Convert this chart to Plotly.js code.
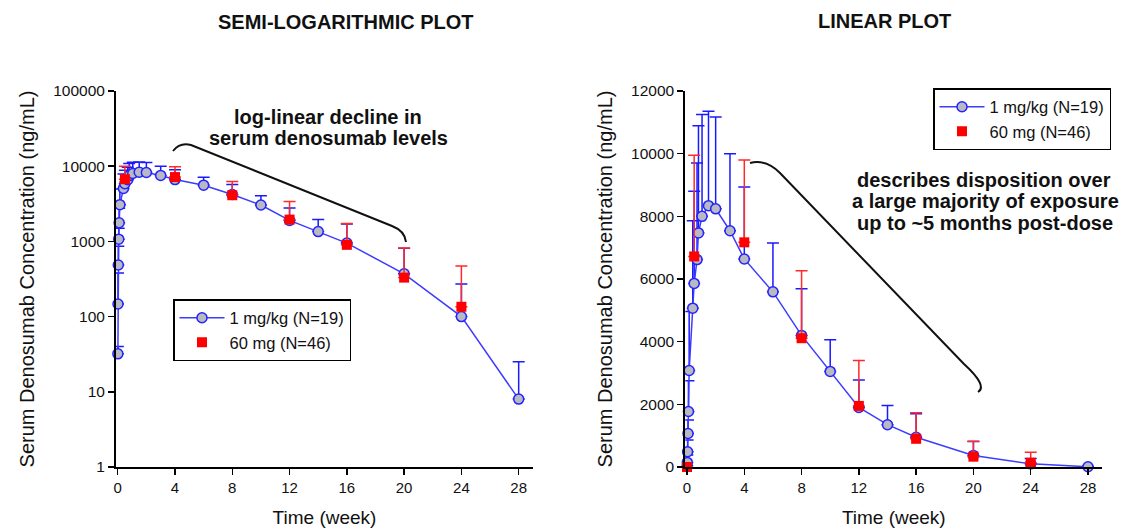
<!DOCTYPE html>
<html>
<head>
<meta charset="utf-8">
<script src="https://cdn.plot.ly/plotly-3.0.1.min.js"></script>
<style>html,body{margin:0;padding:0;background:#fff;}#chart{width:1123px;height:529px;}</style>
</head>
<body>
<div id="chart"></div>
<script>
// ---- data ----
var blueName = "1 mg/kg (N=19)";
var redName = "60 mg (N=46)";
var blueWeeks = [0.01, 0.02, 0.04, 0.07, 0.1, 0.15, 0.4, 0.5, 0.7, 0.8, 1.05, 1.5, 2, 3, 4, 6, 8, 10, 12, 14, 16, 20, 24, 28];
var blueConc  = [32, 147, 486, 1070, 1770, 3080, 5070, 5860, 6620, 7470, 8000, 8340, 8240, 7540, 6640, 5590, 4200, 3050, 1900, 1350, 950, 370, 100, 8];
var blueUpper = [40, 380, 860, 1500, 2750, 4960, 7860, 8800, 9700, 10890, 11250, 11350, 11170, 10000, 8940, 7150, 5690, 4060, 2780, 1960, 1700, 810, 271, 25];
var redWeeks = [0, 0.5, 4, 8, 12, 16, 20, 24];
var redConc  = [0, 6720, 7170, 4110, 1950, 900, 330, 135];
var redUpper = [0, 9950, 9800, 6260, 3400, 1730, 820, 470];
var xTickVals = [0, 4, 8, 12, 16, 20, 24, 28];
var logTickVals = [1, 10, 100, 1000, 10000, 100000];
var logTickText = ["1", "10", "100", "1000", "10000", "100000"];
var linTickVals = [0, 2000, 4000, 6000, 8000, 10000, 12000];
var linTickText = ["0", "2000", "4000", "6000", "8000", "10000", "12000"];

// ---- styling ----
var W = 1123, H = 529;
var FONT = "Liberation Sans, Arial, Helvetica, sans-serif";
function px(x) { return x / W; }
function py(y) { return 1 - y / H; }
function pathFromPx(cmds) {
  return cmds.map(function (c) {
    var s = c[0];
    for (var i = 1; i < c.length; i += 2) s += " " + px(c[i]).toFixed(5) + "," + py(c[i + 1]).toFixed(5);
    return s;
  }).join(" ");
}
function diff(up, v) { return up.map(function (u, i) { return Math.max(0, u - v[i]); }); }
function zeros(v) { return v.map(function () { return 0; }); }

var blueLine = { color: "#3c3cff", width: 1.5 };
var blueMarker = { symbol: "circle", size: 10, color: "#b9b9c2", line: { color: "#2323ff", width: 1.5 } };
var redMarker = { symbol: "square", size: 10, color: "#ff0000", line: { color: "#ff0000", width: 0 } };
function blueErr() { return { type: "data", symmetric: false, array: diff(blueUpper, blueConc), arrayminus: zeros(blueConc), color: "#1a1aff", thickness: 1.5, width: 6 }; }
function redErr() { return { type: "data", symmetric: false, array: diff(redUpper, redConc), arrayminus: zeros(redConc), color: "#ff2a2a", thickness: 1.5, width: 6 }; }

var traces = [
  { type: "scatter", mode: "lines+markers", x: blueWeeks, y: blueConc, name: blueName, xaxis: "x", yaxis: "y",
    line: blueLine, marker: blueMarker, error_y: blueErr(), cliponaxis: false, legend: "legend" },
  { type: "scatter", mode: "markers", x: redWeeks, y: redConc, name: redName, xaxis: "x", yaxis: "y",
    marker: redMarker, error_y: redErr(), cliponaxis: false, legend: "legend" },
  { type: "scatter", mode: "lines+markers", x: blueWeeks, y: blueConc, name: blueName, xaxis: "x2", yaxis: "y2",
    line: blueLine, marker: blueMarker, error_y: blueErr(), cliponaxis: false, legend: "legend2" },
  { type: "scatter", mode: "markers", x: redWeeks, y: redConc, name: redName, xaxis: "x2", yaxis: "y2",
    marker: redMarker, error_y: redErr(), cliponaxis: false, legend: "legend2" }
];

function xAxis(d0, d1, anchor) {
  return {
    domain: [px(d0), px(d1)], anchor: anchor, range: [-0.12, 29],
    tickvals: xTickVals, ticks: "outside", ticklen: 6, tickwidth: 1.5, tickcolor: "#000",
    showline: true, linecolor: "#000", linewidth: 2, showgrid: false, zeroline: false,
    tickfont: { family: FONT, size: 15, color: "#111" },
    title: { text: "Time (week)", font: { family: FONT, size: 19, color: "#111" }, standoff: 16 }
  };
}
function yTitle() { return { text: "Serum Denosumab Concentration (ng/mL)", font: { family: FONT, size: 20, color: "#111" }, standoff: 13 }; }

function ann(text, x, y) {
  return { text: "<b>" + text + "</b>", x: px(x), y: py(y), xref: "paper", yref: "paper",
    xanchor: "center", yanchor: "middle", showarrow: false, font: { family: FONT, size: 20, color: "#111" } };
}

var layout = {
  width: W, height: H,
  margin: { l: 0, r: 0, t: 0, b: 0 },
  paper_bgcolor: "#fff", plot_bgcolor: "rgba(0,0,0,0)",
  font: { family: FONT, color: "#111" },
  xaxis: xAxis(116, 533, "y"),
  xaxis2: xAxis(685.3, 1102.3, "y2"),
  yaxis: {
    domain: [py(467), py(91)], anchor: "x", type: "log", range: [0, 5],
    tickvals: logTickVals, ticktext: logTickText, ticks: "outside", ticklen: 6, tickwidth: 1.5, tickcolor: "#000",
    showline: true, linecolor: "#000", linewidth: 2, showgrid: false, zeroline: false,
    tickfont: { family: FONT, size: 15.5, color: "#111" }, title: yTitle()
  },
  yaxis2: {
    domain: [py(467), py(91)], anchor: "x2", range: [0, 12000],
    tickvals: linTickVals, ticktext: linTickText, ticks: "outside", ticklen: 6, tickwidth: 1.5, tickcolor: "#000",
    showline: true, linecolor: "#000", linewidth: 2, showgrid: false, zeroline: false,
    tickfont: { family: FONT, size: 15.5, color: "#111" }, title: yTitle()
  },
  legend: {
    x: px(173), y: py(299), xanchor: "left", yanchor: "top",
    bgcolor: "#fff", bordercolor: "#000", borderwidth: 1.5,
    font: { family: FONT, size: 16.5, color: "#111" }, itemwidth: 45, tracegroupgap: 0
  },
  legend2: {
    x: px(933), y: py(88), xanchor: "left", yanchor: "top",
    bgcolor: "#fff", bordercolor: "#000", borderwidth: 1.5,
    font: { family: FONT, size: 16.5, color: "#111" }, itemwidth: 45, tracegroupgap: 0
  },
  annotations: [
    ann("SEMI-LOGARITHMIC PLOT", 346, 22),
    ann("LINEAR PLOT", 884, 21),
    ann("log-linear decline in", 328, 116.5),
    ann("serum denosumab levels", 328, 138),
    ann("describes disposition over", 984, 180),
    ann("a large majority of exposure", 985, 201),
    ann("up to ~5 months post-dose", 985, 222.5)
  ],
  shapes: [
    { type: "path", xref: "paper", yref: "paper", line: { color: "#111", width: 2 },
      path: pathFromPx([["M", 173, 151], ["Q", 180, 142, 191, 145], ["L", 392, 226], ["Q", 405, 231, 406, 242]]) },
    { type: "path", xref: "paper", yref: "paper", line: { color: "#111", width: 2 },
      path: pathFromPx([["M", 750, 163], ["Q", 766, 159, 780, 173], ["L", 964, 364], ["Q", 988, 386, 978, 392]]) }
  ]
};

Plotly.newPlot("chart", traces, layout, { staticPlot: true, displayModeBar: false });
</script>
</body>
</html>
